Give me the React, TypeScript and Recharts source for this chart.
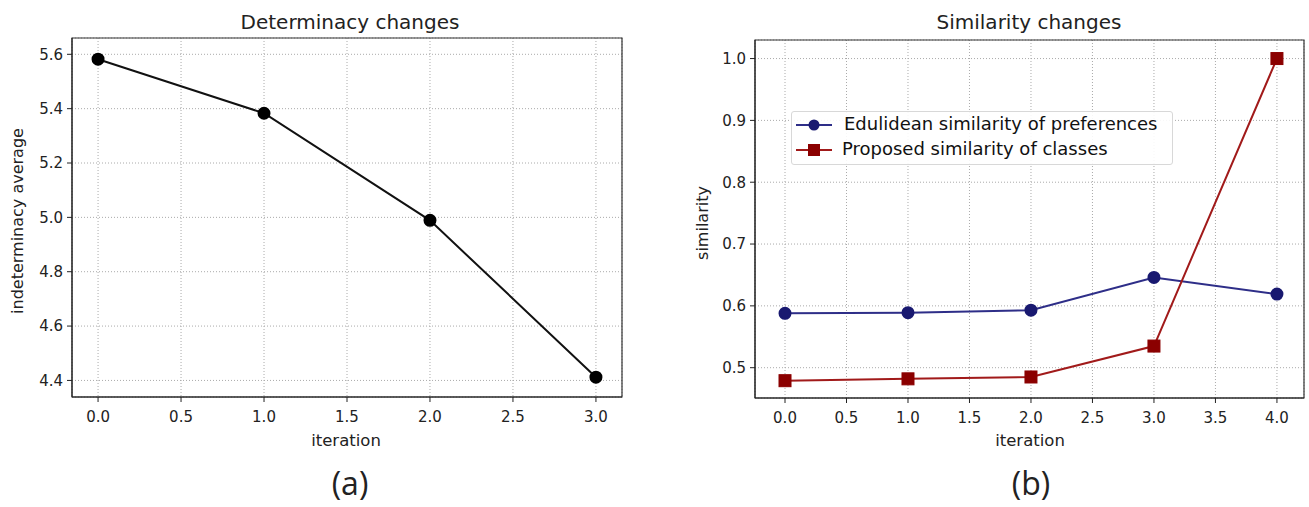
import React from 'react';
import {
  LineChart, Line, XAxis, YAxis, CartesianGrid, ReferenceArea, Legend,
} from 'recharts';

// ---------- data ----------
const iterationsA = [0, 1, 2, 3];
const indeterminacy = [5.582, 5.383, 4.989, 4.412];

const iterationsB = [0, 1, 2, 3, 4];
const euclidean = [0.588, 0.589, 0.593, 0.646, 0.619];
const proposed = [0.479, 0.482, 0.485, 0.535, 1.0];

const xTicksA = [0, 0.5, 1, 1.5, 2, 2.5, 3];
const yTicksA = [4.4, 4.6, 4.8, 5.0, 5.2, 5.4, 5.6];
const xTicksB = [0, 0.5, 1, 1.5, 2, 2.5, 3, 3.5, 4];
const yTicksB = [0.5, 0.6, 0.7, 0.8, 0.9, 1.0];

const seriesNames = ['Edulidean similarity of preferences', 'Proposed similarity of classes'];

const dataA = iterationsA.map((it, i) => ({ it, v: indeterminacy[i] }));
const dataB = iterationsB.map((it, i) => ({ it, e: euclidean[i], p: proposed[i] }));

// ---------- styles ----------
const FONT = "'DejaVu Sans', sans-serif";
const PANEL_FONT = "'Open Sans', 'DejaVu Sans', sans-serif";
const tickStyle = { fontSize: 15, fill: '#222', fontFamily: FONT };
const GRID = '#aaaaaa';
const BLUE_LINE = '#2e2e88';
const BLUE_MARK = '#191970';
const RED_LINE = '#a11a1a';
const RED_MARK = '#8b0000';

const fmt = (v: number) => v.toFixed(1);

const SquareDot = (props: any) => {
  const { cx, cy, index } = props;
  if (cx == null || cy == null) return <g key={`sq-${index}`} />;
  return <rect key={`sq-${index}`} x={cx - 6} y={cy - 6} width={12} height={12} fill={RED_MARK} stroke={RED_MARK} />;
};

const LegendContent = () => (
  <div
    style={{
      width: 382, height: 54, boxSizing: 'border-box',
      border: '1px solid #d8d8d8', borderRadius: 3, background: 'rgba(255,255,255,0.9)',
      fontFamily: FONT, fontSize: 18, color: '#111',
    }}
  >
    {seriesNames.map((name, i) => (
      <div key={name} style={{ position: 'relative', height: 25, top: 1 }}>
        <svg width={40} height={20} style={{ position: 'absolute', left: 2, top: 2 }}>
          <line x1={2} y1={10} x2={38} y2={10} stroke={i === 0 ? BLUE_LINE : RED_LINE} strokeWidth={2} />
          {i === 0 ? (
            <circle cx={20} cy={10} r={5.5} fill={BLUE_MARK} />
          ) : (
            <rect x={14} y={4} width={12} height={12} fill={RED_MARK} />
          )}
        </svg>
        <span style={{ position: 'absolute', left: i === 0 ? 52 : 50, top: 1, lineHeight: '20px', whiteSpace: 'nowrap' }}>{name}</span>
      </div>
    ))}
  </div>
);

const abs = (extra: React.CSSProperties): React.CSSProperties => ({
  position: 'absolute', fontFamily: FONT, color: '#222', whiteSpace: 'nowrap', lineHeight: 1, ...extra,
});

export default function App() {
  return (
    <div style={{ position: 'absolute', left: 0, top: 0, width: 1309, height: 507, background: '#fff', overflow: 'hidden' }}>
      {/* Left chart */}
      <div style={{ position: 'absolute', left: 0, top: 0 }}>
        <LineChart width={660} height={507} data={dataA} margin={{ top: 38, right: 38, bottom: 60, left: 0 }}>
          <CartesianGrid stroke={GRID} strokeDasharray="1 2" />
          <XAxis
            dataKey="it" type="number" domain={[-0.157, 3.157]} ticks={xTicksA} allowDataOverflow
            tickFormatter={fmt} tick={tickStyle} tickSize={5} tickMargin={9} height={50}
            axisLine={{ stroke: '#222' }} tickLine={{ stroke: '#222' }} interval={0}
          />
          <YAxis
            type="number" domain={[4.339, 5.66]} ticks={yTicksA} allowDataOverflow
            tickFormatter={fmt} tick={tickStyle} tickSize={5} tickMargin={4} width={72}
            axisLine={{ stroke: '#222' }} tickLine={{ stroke: '#222' }} interval={0}
          />
          <ReferenceArea x1={-0.157} x2={3.157} y1={4.339} y2={5.66} fill="none" stroke="#333" strokeWidth={1.2} ifOverflow="visible" />
          <Line dataKey="v" stroke="#111" strokeWidth={2} isAnimationActive={false}
            dot={{ r: 5.5, fill: '#000', stroke: '#000' }} />
        </LineChart>
      </div>

      {/* Right chart */}
      <div style={{ position: 'absolute', left: 680, top: 0 }}>
        <LineChart width={629} height={507} data={dataB} margin={{ top: 40, right: 5, bottom: 59, left: 0 }}>
          <CartesianGrid stroke={GRID} strokeDasharray="1 2" />
          <XAxis
            dataKey="it" type="number" domain={[-0.244, 4.22]} ticks={xTicksB} allowDataOverflow
            tickFormatter={fmt} tick={tickStyle} tickSize={5} tickMargin={9} height={50}
            axisLine={{ stroke: '#222' }} tickLine={{ stroke: '#222' }} interval={0}
          />
          <YAxis
            type="number" domain={[0.451, 1.03]} ticks={yTicksB} allowDataOverflow
            tickFormatter={fmt} tick={tickStyle} tickSize={5} tickMargin={4} width={75}
            axisLine={{ stroke: '#222' }} tickLine={{ stroke: '#222' }} interval={0}
          />
          <ReferenceArea x1={-0.244} x2={4.22} y1={0.451} y2={1.03} fill="none" stroke="#333" strokeWidth={1.2} ifOverflow="visible" />
          <Line dataKey="e" name={seriesNames[0]} stroke={BLUE_LINE} strokeWidth={2} isAnimationActive={false}
            dot={{ r: 5.5, fill: BLUE_MARK, stroke: BLUE_MARK }} />
          <Line dataKey="p" name={seriesNames[1]} stroke={RED_LINE} strokeWidth={2} isAnimationActive={false}
            dot={SquareDot} />
          <Legend
            layout="vertical" align="center" verticalAlign="middle"
            content={LegendContent}
            wrapperStyle={{ left: 111, top: 111, width: 382, height: 54 }}
          />
        </LineChart>
      </div>

      {/* Titles & labels */}
      <div style={abs({ left: 350, top: 12, transform: 'translateX(-50%)', fontSize: 20 })}>Determinacy changes</div>
      <div style={abs({ left: 1029, top: 12, transform: 'translateX(-50%)', fontSize: 20 })}>Similarity changes</div>
      <div style={abs({ left: 346, top: 433, transform: 'translateX(-50%)', fontSize: 16.5 })}>iteration</div>
      <div style={abs({ left: 1030, top: 433, transform: 'translateX(-50%)', fontSize: 16.5 })}>iteration</div>
      <div style={abs({ left: 18, top: 221, transform: 'translate(-50%, -50%) rotate(-90deg)', fontSize: 16 })}>indeterminacy average</div>
      <div style={abs({ left: 703, top: 223, transform: 'translate(-50%, -50%) rotate(-90deg)', fontSize: 16 })}>similarity</div>
      <div style={abs({ left: 350, top: 467, transform: 'translateX(-50%)', fontSize: 32, fontFamily: PANEL_FONT })}>(a)</div>
      <div style={abs({ left: 1031, top: 467, transform: 'translateX(-50%)', fontSize: 32, fontFamily: PANEL_FONT })}>(b)</div>
    </div>
  );
}
